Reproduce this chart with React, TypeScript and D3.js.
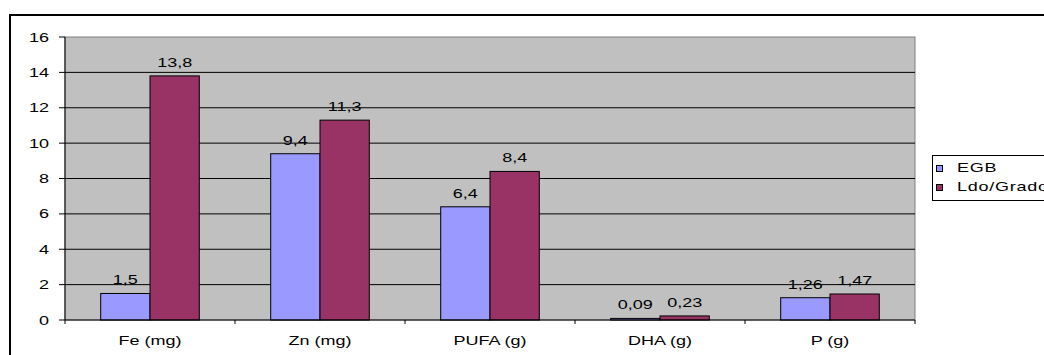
import React from "react";
import * as d3 from "d3";

const categories = ["Fe (mg)", "Zn (mg)", "PUFA (g)", "DHA (g)", "P (g)"];
const seriesNames = ["EGB", "Ldo/Grado"];
const egbValues = [1.5, 9.4, 6.4, 0.09, 1.26];
const ldoValues = [13.8, 11.3, 8.4, 0.23, 1.47];
const valueLabels = [
  ["1,5", "9,4", "6,4", "0,09", "1,26"],
  ["13,8", "11,3", "8,4", "0,23", "1,47"],
];
const yTicks = [0, 2, 4, 6, 8, 10, 12, 14, 16];
const colors = ["#9999FF", "#993366"];

const W = 1044;
const H = 355;
const plot = { left: 65, top: 37, right: 915, bottom: 320 };
const font = "'Liberation Sans', Arial, sans-serif";
const FS = 12;
const SX = 1.5;

// Text drawn with a horizontal stretch, anchored at (x, y)
function Label(props: {
  x: number;
  y: number;
  anchor?: "start" | "middle" | "end";
  spacing?: number;
  children: React.ReactNode;
}) {
  return (
    <text
      transform={`translate(${props.x},${props.y}) scale(${SX},1)`}
      textAnchor={props.anchor ?? "start"}
      fontSize={FS}
      letterSpacing={props.spacing ?? 0}
      fill="#000"
    >
      {props.children}
    </text>
  );
}

export default function App() {
  const x = d3
    .scaleBand<string>()
    .domain(categories)
    .range([plot.left, plot.right])
    .paddingInner(0)
    .paddingOuter(0);
  const y = d3.scaleLinear().domain([0, 16]).range([plot.bottom, plot.top]);
  const groupW = x.bandwidth() * 0.58;
  const xs = d3.scaleBand<string>().domain(seriesNames).range([0, groupW]);
  const series = [egbValues, ldoValues];

  return (
    <svg
      width={W}
      height={H}
      style={{ position: "absolute", left: 0, top: 0, background: "#fff" }}
      fontFamily={font}
    >
      {/* chart frame */}
      <rect x={10} y={15} width={W} height={H} fill="#fff" stroke="#000" strokeWidth={2} />
      {/* plot area */}
      <rect
        x={plot.left}
        y={plot.top}
        width={plot.right - plot.left}
        height={plot.bottom - plot.top}
        fill="#C0C0C0"
        stroke="#808080"
        strokeWidth={1}
      />
      {yTicks.map((t) => (
        <g key={t}>
          {t > 0 && t < 16 && (
            <line x1={plot.left} x2={plot.right} y1={y(t)} y2={y(t)} stroke="#000" strokeWidth={1} />
          )}
          <line x1={plot.left - 6} x2={plot.left} y1={y(t)} y2={y(t)} stroke="#000" />
          <Label x={49} y={y(t) + 4.5} anchor="end">
            {t}
          </Label>
        </g>
      ))}
      {/* bars */}
      {categories.map((c, i) => {
        const gx = (x(c) ?? 0) + (x.bandwidth() - groupW) / 2;
        return (
          <g key={c}>
            {series.map((vals, s) => {
              const bx = gx + (xs(seriesNames[s]) ?? 0);
              const by = y(vals[i]);
              return (
                <g key={s}>
                  <rect
                    x={bx}
                    y={by}
                    width={xs.bandwidth()}
                    height={plot.bottom - by}
                    fill={colors[s]}
                    stroke="#000"
                    strokeWidth={1}
                  />
                  <Label x={bx + xs.bandwidth() / 2} y={by - 9} anchor="middle">
                    {valueLabels[s][i]}
                  </Label>
                </g>
              );
            })}
            <Label x={(x(c) ?? 0) + x.bandwidth() / 2} y={345} anchor="middle">
              {c}
            </Label>
          </g>
        );
      })}
      {/* axes */}
      <line x1={plot.left} x2={plot.right} y1={plot.bottom} y2={plot.bottom} stroke="#000" />
      <line x1={plot.left} x2={plot.left} y1={plot.top} y2={plot.bottom} stroke="#000" />
      {categories.map((c) => (
        <line key={c} x1={x(c) ?? 0} x2={x(c) ?? 0} y1={plot.bottom} y2={plot.bottom + 4} stroke="#000" />
      ))}
      <line x1={plot.right} x2={plot.right} y1={plot.bottom} y2={plot.bottom + 4} stroke="#000" />
      {/* legend */}
      <rect x={932.5} y={155.5} width={130} height={45} fill="#fff" stroke="#000" strokeWidth={1} />
      {seriesNames.map((n, s) => (
        <g key={n}>
          <rect x={936.5} y={165.5 + s * 19} width={6} height={6} fill={colors[s]} stroke="#000" strokeWidth={1} />
          <Label x={957} y={172 + s * 19} spacing={0.5}>
            {n}
          </Label>
        </g>
      ))}
    </svg>
  );
}
